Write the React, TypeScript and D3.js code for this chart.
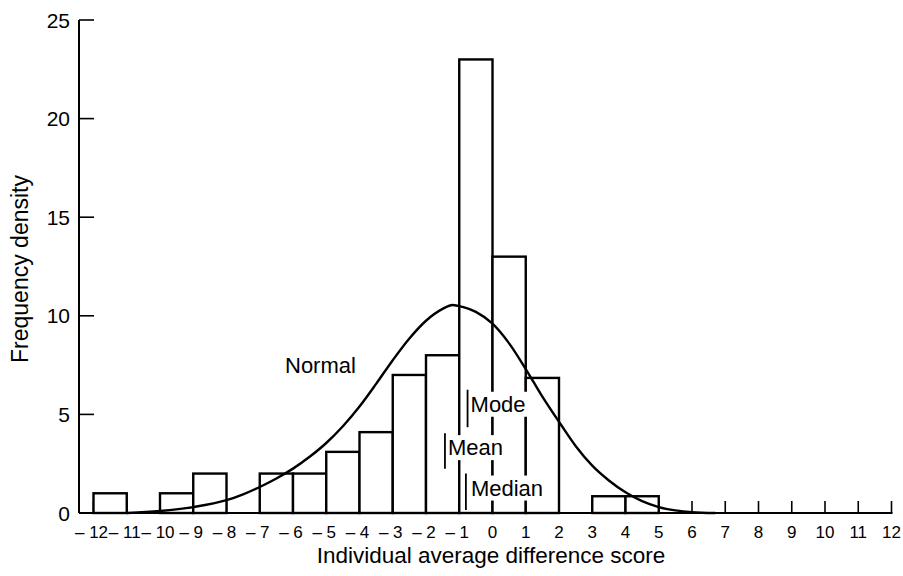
import React, { useEffect, useRef } from "react";
import * as d3 from "d3";

// ---- data ----
const binStarts = [-12, -11, -10, -9, -8, -7, -6, -5, -4, -3, -2, -1, 0, 1, 2, 3, 4];
const binValues = [1, 0, 1, 2, 0, 2, 2, 3.1, 4.1, 7, 8, 23, 13, 6.85, 0, 0.85, 0.85];

const xTickValues = [-12, -11, -10, -9, -8, -7, -6, -5, -4, -3, -2, -1, 0, 1, 2, 3, 4, 5, 6, 7, 8, 9, 10, 11, 12];
const yTickValues = [0, 5, 10, 15, 20, 25];

const normalX = [-11.0, -10.0, -9.0, -8.0, -7.5, -7.0, -6.5, -6.0, -5.5, -5.0, -4.5, -4.0, -3.5, -3.0, -2.5, -2.0, -1.5, -1.2, -0.9, -0.5, 0.0, 0.5, 1.0, 1.5, 2.05, 2.5, 3.0, 3.5, 4.0, 4.5, 5.0, 5.5, 6.0, 6.7];
const normalY = [0.0, 0.1, 0.3, 0.65, 0.95, 1.32, 1.75, 2.25, 2.85, 3.55, 4.4, 5.4, 6.55, 7.75, 8.85, 9.75, 10.35, 10.55, 10.45, 10.2, 9.6, 8.6, 7.3, 5.9, 4.5, 3.4, 2.4, 1.65, 1.05, 0.6, 0.3, 0.13, 0.04, 0.0];

const markerNames = ["Mode", "Mean", "Median"];
const markerX = [-0.75, -1.43, -0.8];
const markerTop = [6.25, 4.05, 2.0];
const markerBottom = [4.35, 2.25, 0.15];

const xTitle = "Individual average difference score";
const yTitle = "Frequency density";
const curveLabel = "Normal";

const FONT = "'Liberation Sans', Arial, Helvetica, sans-serif";

export default function App() {
  const ref = useRef<SVGSVGElement | null>(null);

  useEffect(() => {
    const svg = d3.select(ref.current);
    svg.selectAll("*").remove();

    const x = d3.scaleLinear().domain([-12, 12]).range([93.5, 891.5]);
    const y = d3.scaleLinear().domain([0, 25]).range([513, 20]);
    const axisX = 79;
    const sw = 2.4;

    const g = svg.append("g");

    // y axis
    g.append("line")
      .attr("x1", axisX).attr("x2", axisX)
      .attr("y1", y(25)).attr("y2", y(0))
      .attr("stroke", "#000").attr("stroke-width", 2);
    g.selectAll(".ytick")
      .data(yTickValues.filter((v) => v > 0))
      .enter().append("line")
      .attr("x1", axisX).attr("x2", axisX + 15)
      .attr("y1", (d) => y(d)).attr("y2", (d) => y(d))
      .attr("stroke", "#000").attr("stroke-width", 1.6);
    g.selectAll(".ylab")
      .data(yTickValues)
      .enter().append("text")
      .attr("x", 70).attr("y", (d) => y(d))
      .attr("dy", "0.36em")
      .attr("text-anchor", "end")
      .attr("font-family", FONT).attr("font-size", 21)
      .text((d) => String(d));

    // x axis baseline + ticks
    g.append("line")
      .attr("x1", axisX).attr("x2", x(12) + 1)
      .attr("y1", y(0)).attr("y2", y(0))
      .attr("stroke", "#000").attr("stroke-width", 2);
    g.selectAll(".xtick")
      .data(xTickValues)
      .enter().append("line")
      .attr("x1", (d) => x(d)).attr("x2", (d) => x(d))
      .attr("y1", y(0)).attr("y2", y(0) - 12)
      .attr("stroke", "#000").attr("stroke-width", 1.6);
    g.selectAll(".xlab")
      .data(xTickValues)
      .enter().append("text")
      .attr("x", (d) => x(d) + (d < 0 ? -2 : 0))
      .attr("y", 538)
      .attr("text-anchor", "middle")
      .attr("font-family", FONT).attr("font-size", 17)
      .text((d) => (d < 0 ? "\u2013 " + Math.abs(d) : String(d)));

    // bars
    const bars = binStarts.map((s, i) => ({ s, v: binValues[i] })).filter((b) => b.v > 0);
    g.selectAll(".bar")
      .data(bars)
      .enter().append("rect")
      .attr("x", (d) => x(d.s))
      .attr("y", (d) => y(d.v))
      .attr("width", (d) => x(d.s + 1) - x(d.s))
      .attr("height", (d) => y(0) - y(d.v))
      .attr("fill", "#fff")
      .attr("stroke", "#000")
      .attr("stroke-width", sw);

    // normal curve
    const pts: [number, number][] = normalX.map((v, i) => [v, normalY[i]]);
    const line = d3.line<[number, number]>()
      .x((d) => x(d[0]))
      .y((d) => y(d[1]))
      .curve(d3.curveMonotoneX);
    g.append("path")
      .attr("d", line(pts) as string)
      .attr("fill", "none")
      .attr("stroke", "#000")
      .attr("stroke-width", 2.4);

    g.append("text")
      .attr("x", 285).attr("y", 373)
      .attr("font-family", FONT).attr("font-size", 22)
      .text(curveLabel);

    // markers
    markerNames.forEach((name, i) => {
      const lx = x(markerX[i]);
      const yt = y(markerTop[i]);
      const yb = y(markerBottom[i]);
      const tx = lx + (name === "Median" ? 5 : 3);
      const ty = yt + 22;
      const bgRect = g.append("rect").attr("fill", "#fff");
      const t = g.append("text")
        .attr("x", tx).attr("y", ty)
        .attr("font-family", FONT).attr("font-size", 22)
        .text(name);
      const bb = (t.node() as SVGTextElement).getBBox();
      bgRect
        .attr("x", bb.x - 2).attr("y", bb.y)
        .attr("width", bb.width + 4).attr("height", bb.height);
      g.append("line")
        .attr("x1", lx).attr("x2", lx)
        .attr("y1", yt).attr("y2", yb)
        .attr("stroke", "#000").attr("stroke-width", 1.8);
    });

    // titles
    g.append("text")
      .attr("x", 491).attr("y", 563)
      .attr("text-anchor", "middle")
      .attr("font-family", FONT).attr("font-size", 22.5)
      .text(xTitle);
    g.append("text")
      .attr("transform", "translate(28,269) rotate(-90)")
      .attr("text-anchor", "middle")
      .attr("font-family", FONT).attr("font-size", 23)
      .text(yTitle);
  }, []);

  return (
    <svg
      ref={ref}
      width={903}
      height={576}
      style={{ position: "absolute", left: 0, top: 0, background: "#fff" }}
    />
  );
}
